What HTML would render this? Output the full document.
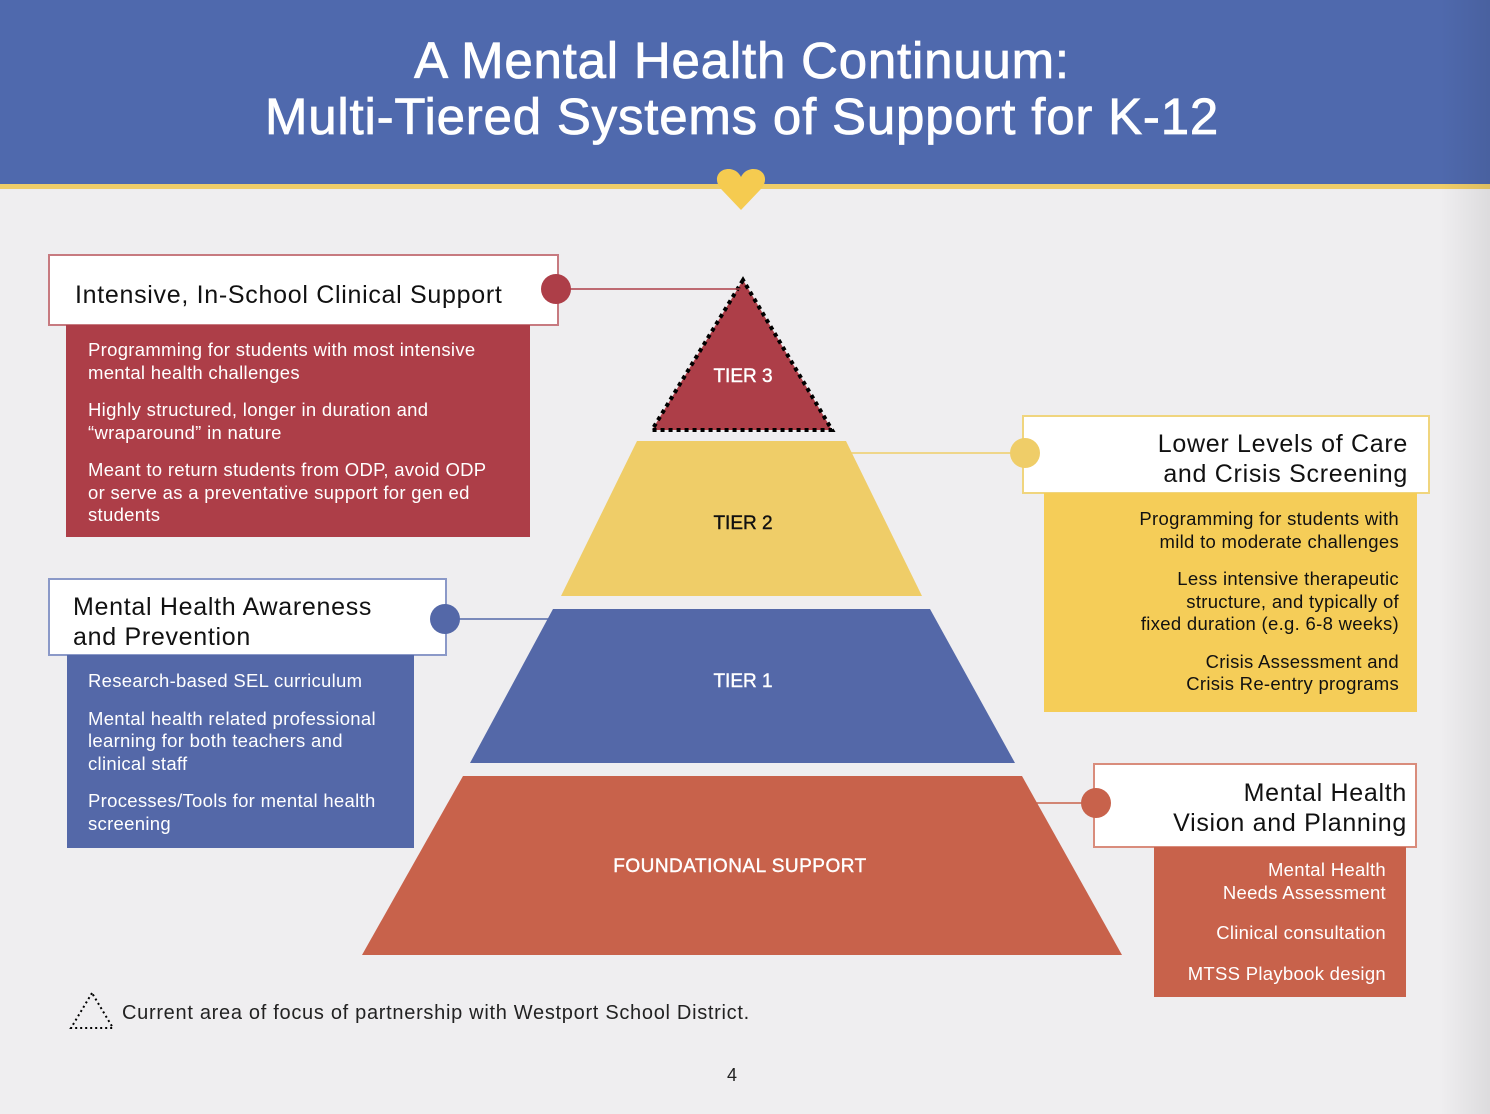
<!DOCTYPE html>
<html><head><meta charset="utf-8"><style>
*{margin:0;padding:0;box-sizing:border-box}
body{width:1490px;height:1114px;position:relative;overflow:hidden;background:#efeef0;font-family:"Liberation Sans",sans-serif}
.a{position:absolute}
.hd{background:#fff;border:2px solid;font-size:25px;color:#111;line-height:30px;letter-spacing:0.7px;white-space:nowrap}
.bd{color:#fff;font-size:18.5px;line-height:22.5px;letter-spacing:0.3px;white-space:nowrap}
.bd p{margin-bottom:15px}
.r{text-align:right}
.dot{position:absolute;width:30px;height:30px;border-radius:50%}
</style></head><body>
<div class="a" style="left:0;top:0;width:1490px;height:184px;background:#4f69ad"></div>
<div class="a" style="left:0;top:184px;width:1490px;height:5px;background:#efcd68"></div>
<div class="a" style="left:1440px;top:0;width:50px;height:1114px;background:linear-gradient(90deg,rgba(0,0,0,0),rgba(0,0,0,0.08))"></div>
<div class="a" style="left:0;top:33px;width:1484px;text-align:center;color:#fff;font-size:51px;line-height:56px;letter-spacing:0.8px;-webkit-text-stroke:0.8px #fff">A Mental Health Continuum:<br>Multi-Tiered Systems of Support for K-12</div>
<svg class="a" style="left:0;top:0" width="1490" height="1114">
<path d="M741 210 L722 190 C712 180 718 168 730 169 C736 170 739 173 741 177 C743 173 746 170 752 169 C764 168 770 180 760 190 Z" fill="#f5cb50"/>
<polygon points="743,280 652,430 832,430" fill="#ad3e48" stroke="#000" stroke-width="4" stroke-dasharray="4,4"/>
<polygon points="637,441 846,441 922,596 561,596" fill="#efcd68"/>
<polygon points="553,609 930,609 1015,763 470,763" fill="#5468a8"/>
<polygon points="463,776 1022,776 1122,955 362,955" fill="#c8624b"/>
<line x1="570" y1="289" x2="740" y2="289" stroke="#ad3e48" stroke-width="1.5"/>
<line x1="458" y1="619" x2="553" y2="619" stroke="#5468a8" stroke-width="1.5"/>
<line x1="846" y1="453" x2="1012" y2="453" stroke="#efcd68" stroke-width="1.5"/>
<line x1="1035" y1="803" x2="1084" y2="803" stroke="#c8624b" stroke-width="1.5"/>
<polygon points="92,993 71,1028 113,1028" fill="none" stroke="#000" stroke-width="2" stroke-dasharray="2,3"/>
<g fill="#fff" font-family="Liberation Sans,sans-serif" font-size="19" text-anchor="middle" stroke="#fff" stroke-width="0.4">
<text x="743" y="382">TIER 3</text><text x="743" y="529" fill="#111" stroke="#111">TIER 2</text><text x="743" y="687">TIER 1</text><text x="740" y="872" letter-spacing="0.5">FOUNDATIONAL SUPPORT</text></g>
</svg>
<div class="a hd" style="left:48px;top:254px;width:511px;height:72px;border-color:#c77a80;padding:24px 0 0 25px">Intensive, In-School Clinical Support</div>
<div class="dot" style="left:541px;top:274px;background:#ad3e48"></div>
<div class="a bd" style="left:66px;top:325px;width:464px;height:212px;background:#ad3e48;padding:14px 0 0 22px">
<p>Programming for students with most intensive<br>mental health challenges</p><p>Highly structured, longer in duration and<br>“wraparound” in nature</p><p>Meant to return students from ODP, avoid ODP<br>or serve as a preventative support for gen ed<br>students</p></div>
<div class="a hd" style="left:48px;top:578px;width:399px;height:78px;border-color:#8b99c8;padding:12px 0 0 23px">Mental Health Awareness<br>and Prevention</div>
<div class="dot" style="left:430px;top:604px;background:#5468a8"></div>
<div class="a bd" style="left:67px;top:655px;width:347px;height:193px;background:#5468a8;padding:15px 0 0 21px">
<p>Research-based SEL curriculum</p><p>Mental health related professional<br>learning for both teachers and<br>clinical staff</p><p>Processes/Tools for mental health<br>screening</p></div>
<div class="a hd r" style="left:1022px;top:415px;width:408px;height:79px;border-color:#f0d57e;padding:12px 20px 0 0">Lower Levels of Care<br>and Crisis Screening</div>
<div class="dot" style="left:1010px;top:438px;background:#efcd68"></div>
<div class="a bd r" style="left:1044px;top:493px;width:373px;height:219px;background:#f5cd58;color:#111;padding:15px 18px 0 0">
<p>Programming for students with<br>mild to moderate challenges</p><p>Less intensive therapeutic<br>structure, and typically of<br>fixed duration (e.g. 6-8 weeks)</p><p>Crisis Assessment and<br>Crisis Re-entry programs</p></div>
<div class="a hd r" style="left:1093px;top:763px;width:324px;height:85px;border-color:#d98c7c;padding:13px 8px 0 0">Mental Health<br>Vision and Planning</div>
<div class="dot" style="left:1081px;top:788px;background:#c8624b"></div>
<div class="a bd r" style="left:1154px;top:847px;width:252px;height:150px;background:#c8624b;padding:12px 20px 0 0">
<p style="margin-bottom:18px">Mental Health<br>Needs Assessment</p><p style="margin-bottom:18px">Clinical consultation</p><p>MTSS Playbook design</p></div>
<div class="a" style="left:122px;top:1002px;font-size:20px;color:#222;letter-spacing:0.7px;white-space:nowrap">Current area of focus of partnership with Westport School District.</div>
<div class="a" style="left:727px;top:1065px;font-size:18px;color:#222">4</div>
</body></html>
